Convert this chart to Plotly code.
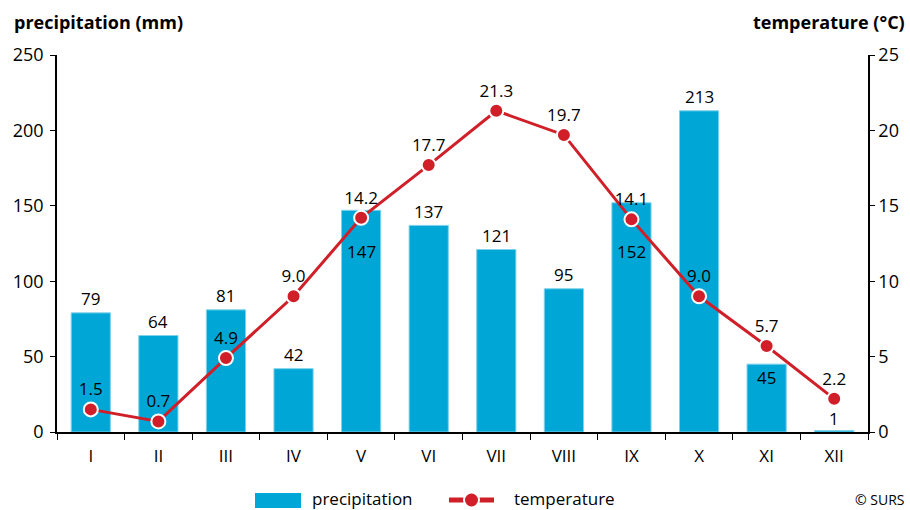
import plotly.graph_objects as go

months = ["I", "II", "III", "IV", "V", "VI", "VII", "VIII", "IX", "X", "XI", "XII"]
precipitation = [79, 64, 81, 42, 147, 137, 121, 95, 152, 213, 45, 1]
temperature = [1.5, 0.7, 4.9, 9.0, 14.2, 17.7, 21.3, 19.7, 14.1, 9.0, 5.7, 2.2]
# pixel offset of each precipitation label from the top of its bar
bar_label_shift = [14, 14, 14, 14, -41, 14, 14, 14, -49, 14, -13, 12]

FONT = "Open Sans"
BLUE = "#00A6D6"
RED = "#D01F28"

# plot area in pixels (for placing non-data text / legend)
L, R, T, B = 57, 868, 55, 432
W, H = R - L, B - T
def px(x):
    return (x - L) / W
def py(y):
    return (B - y) / H

fig = go.Figure()
fig.add_trace(go.Bar(
    x=months, y=precipitation, name="precipitation",
    marker=dict(color=BLUE, line=dict(color="#80D2EA", width=1)),
    width=0.58, showlegend=False, cliponaxis=False,
))
fig.add_trace(go.Scatter(
    x=months, y=temperature, name="temperature", yaxis="y2",
    mode="lines+markers+text",
    line=dict(color=RED, width=3),
    marker=dict(color=RED, size=14, line=dict(color="white", width=2)),
    text=[f"{v:.1f}" for v in temperature],
    textposition="top center",
    textfont=dict(color="black", size=17, family=FONT),
    cliponaxis=False, showlegend=False,
))

annotations = []
for m, v, s in zip(months, precipitation, bar_label_shift):
    annotations.append(dict(x=m, y=v, xref="x", yref="y", text=str(v), showarrow=False,
                            yshift=s, xanchor="center", yanchor="middle",
                            font=dict(size=17, family=FONT, color="black")))

annotations += [
    dict(text="<b>precipitation (mm)</b>", xref="paper", yref="paper",
         x=px(12), y=py(22), xanchor="left", yanchor="middle", showarrow=False,
         font=dict(size=18, family=FONT)),
    dict(text="<b>temperature (°C)</b>", xref="paper", yref="paper",
         x=px(907), y=py(22), xanchor="right", yanchor="middle", showarrow=False,
         font=dict(size=18, family=FONT)),
    dict(text="© SURS", xref="paper", yref="paper",
         x=px(906), y=py(499), xanchor="right", yanchor="middle", showarrow=False,
         borderpad=0, font=dict(size=14, family=FONT)),
    dict(text="precipitation", xref="paper", yref="paper",
         x=px(311), y=py(498.5), xanchor="left", yanchor="middle", showarrow=False,
         borderpad=0, font=dict(size=17, family=FONT)),
    dict(text="temperature", xref="paper", yref="paper",
         x=px(513), y=py(498.5), xanchor="left", yanchor="middle", showarrow=False,
         borderpad=0, font=dict(size=17, family=FONT)),
]

shapes = [
    # legend swatch for bars
    dict(type="rect", xref="paper", yref="paper", x0=px(255), x1=px(301),
         y0=py(508), y1=py(493), fillcolor=BLUE, line=dict(width=0)),
    # legend line for temperature
    dict(type="line", xref="paper", yref="paper", x0=px(449), x1=px(494),
         y0=py(500), y1=py(500), line=dict(color=RED, width=5)),
    dict(type="circle", xref="paper", yref="paper", x0=px(464), x1=px(479),
         y0=py(507.5), y1=py(492.5), fillcolor=RED, line=dict(color="white", width=2)),
]

fig.update_layout(
    width=910, height=510,
    margin=dict(l=L, r=910 - R, t=T, b=510 - B, autoexpand=False),
    plot_bgcolor="white", paper_bgcolor="white",
    font=dict(family=FONT, size=17, color="black"),
    showlegend=False,
    xaxis=dict(type="category", range=[-0.5, len(months) - 0.5],
               showline=True, linecolor="black", linewidth=1.5,
               ticks="outside", tickson="boundaries", ticklen=6, tickcolor="black",
               ticklabelstandoff=8,
               tickfont=dict(size=17), showgrid=False, zeroline=False),
    yaxis=dict(range=[0, 250], dtick=50, showline=True, linecolor="black", linewidth=1.5,
               ticks="outside", ticklen=5, tickcolor="black", showgrid=False,
               ticklabelstandoff=3,
               zeroline=False, tickfont=dict(size=18)),
    yaxis2=dict(range=[0, 25], dtick=5, overlaying="y", side="right", showline=True,
                linecolor="black", linewidth=1.5, ticks="outside", ticklen=5,
                tickcolor="black", showgrid=False, zeroline=False, tickfont=dict(size=18)),
    annotations=annotations,
    shapes=shapes,
)

fig.write_html("out.html", config={"displayModeBar": False},
               post_script="document.body.style.margin='0';")
